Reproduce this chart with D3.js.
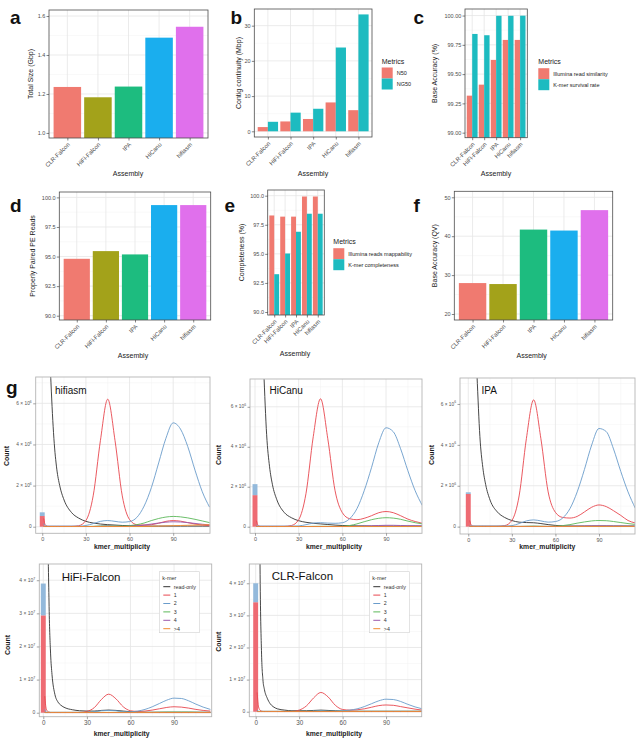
<!DOCTYPE html>
<html><head><meta charset="utf-8">
<script src="https://cdn.jsdelivr.net/npm/d3@7"></script>
<style>body{margin:0;background:#fff} svg{display:block} text{font-family:"Liberation Sans",Arial,sans-serif}</style>
</head><body><svg id="c" width="642" height="739"></svg>
<script>
// ---------- data: panels a-f ----------
const assemblies = ["CLR-Falcon","HiFi-Falcon","IPA","HiCanu","hifiasm"];
const assemblyColors = ["#F07A70","#A3A21A","#1DBC7F","#1AAEEE","#E070EC"];
const metricColors = ["#F07A70","#1DBBC0"];
const totalSize = [1.236,1.183,1.238,1.489,1.545];
const n50 = [1.2,2.8,3.5,8.2,6.0];
const ng50 = [2.7,5.3,6.4,23.8,33.2];
const readSimilarity = [99.316,99.41,99.621,99.792,99.792];
const kmerSurvival = [99.843,99.832,99.998,99.998,99.999];
const pairedReads = [94.81,95.46,95.18,99.35,99.35];
const readMappability = [98.3,98.2,98.2,99.93,99.93];
const kmerCompleteness = [93.25,95.03,96.9,98.45,98.45];
const qv = [27.95,27.7,41.7,41.45,46.7];

// ---------- data: panel g (k-mer spectra) ----------
const kmerMult = [1,2,3,4,5,6,8,10,12,15,20,25,30,35,40,45,50,55,60,65,70,75,80,85,90,95,100,105,110,115];
const spectraSeries = ["read-only","1","2","3","4",">4"];
const spectraColors = ["#333333","#E8474F","#6A9CCB","#5CB85A","#9B58AA","#F28C2E"];
const barFills = ["#EE6B73","#93B9DB"];

// hifiasm (x 1e6)
const hifiasmRO  = [60,30,18,12,8.8,7.0,4.3,2.8,2.0,1.3, 0.7,0.42,0.26,0.18,0.13,0.1,0.08,0.06,0.05,0.04, 0.03,0.03,0.03,0.03,0.03,0.03,0.03,0.03,0.03,0.03];
const hifiasmCn1 = [0.4,0.1,0.04,0.02,0.02,0.02,0.02,0.02,0.02,0.02, 0.02,0.05,0.3,1.5,4.2,6.2,4.2,1.5,0.35,0.1, 0.08,0.1,0.17,0.26,0.3,0.27,0.2,0.13,0.08,0.05];
const hifiasmCn2 = [0.15,0.05,0.03,0.03,0.03,0.03,0.03,0.03,0.03,0.03, 0.03,0.03,0.06,0.15,0.26,0.3,0.26,0.22,0.25,0.45, 1.0,1.9,3.1,4.3,5.05,4.75,3.9,2.75,1.7,0.95];
const hifiasmCn3 = [0.02,0.01,0.01,0.01,0.01,0.01,0.01,0.01,0.01,0.01, 0.01,0.01,0.01,0.02,0.04,0.05,0.04,0.03,0.05,0.1, 0.18,0.3,0.4,0.47,0.5,0.48,0.43,0.36,0.28,0.2];
const hifiasmCn4 = [0.01,0.01,0.01,0.01,0.01,0.01,0.01,0.01,0.01,0.01, 0.01,0.01,0.01,0.01,0.02,0.03,0.02,0.01,0.02,0.04, 0.08,0.13,0.18,0.22,0.24,0.23,0.2,0.16,0.12,0.09];
const hifiasmCn5 = [0.01,0.01,0.01,0.01,0.01,0.01,0.01,0.01,0.01,0.01, 0.01,0.01,0.01,0.01,0.01,0.01,0.01,0.01,0.01,0.01, 0.01,0.02,0.03,0.04,0.05,0.06,0.07,0.08,0.09,0.1];
const hifiasmBars = [0.52,0.18];

// HiCanu (x 1e6)
const hicanuRO  = [60,30,18,12.5,9.5,7.8,4.6,3.0,2.1,1.35, 0.72,0.45,0.3,0.22,0.17,0.14,0.11,0.08,0.06,0.05, 0.04,0.04,0.03,0.03,0.03,0.03,0.03,0.03,0.03,0.03];
const hicanuCn1 = [0.3,0.08,0.03,0.02,0.02,0.02,0.02,0.02,0.02,0.02, 0.02,0.06,0.35,1.65,4.5,6.4,4.4,1.8,0.7,0.4, 0.35,0.42,0.55,0.7,0.76,0.7,0.55,0.38,0.26,0.17];
const hicanuCn2 = [0.1,0.03,0.03,0.03,0.03,0.03,0.03,0.03,0.03,0.03, 0.03,0.03,0.04,0.1,0.18,0.2,0.18,0.17,0.2,0.4, 0.9,1.8,2.95,4.2,4.95,4.75,3.9,2.8,1.8,1.05];
const hicanuCn3 = [0.01,0.01,0.01,0.01,0.01,0.01,0.01,0.01,0.01,0.01, 0.01,0.01,0.01,0.01,0.02,0.02,0.02,0.01,0.02,0.06, 0.14,0.25,0.35,0.42,0.45,0.43,0.37,0.28,0.2,0.14];
const hicanuCn4 = [0.01,0.01,0.01,0.01,0.01,0.01,0.01,0.01,0.01,0.01, 0.01,0.01,0.01,0.01,0.01,0.01,0.01,0.01,0.01,0.01, 0.02,0.03,0.05,0.06,0.07,0.07,0.06,0.05,0.05,0.04];
const hicanuCn5 = [0.01,0.01,0.01,0.01,0.01,0.01,0.01,0.01,0.01,0.01, 0.01,0.01,0.01,0.01,0.01,0.01,0.01,0.01,0.01,0.01, 0.01,0.01,0.01,0.01,0.01,0.01,0.01,0.01,0.01,0.01];
const hicanuBars = [1.58,0.55];

// IPA (x 1e6)
const ipaRO  = [60,30,18,12,9,7.4,4.4,2.9,2.05,1.3, 0.72,0.45,0.3,0.22,0.2,0.19,0.15,0.1,0.06,0.04, 0.03,0.03,0.03,0.03,0.03,0.03,0.03,0.03,0.03,0.03];
const ipaCn1 = [0.3,0.08,0.03,0.02,0.02,0.02,0.02,0.02,0.02,0.02, 0.02,0.05,0.3,1.5,4.3,6.2,4.3,1.7,0.7,0.45, 0.42,0.5,0.72,0.95,1.06,0.98,0.78,0.55,0.3,0.18];
const ipaCn2 = [0.05,0.03,0.03,0.03,0.03,0.03,0.03,0.03,0.03,0.03, 0.03,0.03,0.05,0.15,0.28,0.33,0.28,0.22,0.25,0.42, 0.88,1.7,2.8,4.0,4.8,4.65,3.8,2.7,1.7,0.9];
const ipaCn3 = [0.01,0.01,0.01,0.01,0.01,0.01,0.01,0.01,0.01,0.01, 0.01,0.01,0.01,0.01,0.02,0.03,0.02,0.01,0.02,0.05, 0.1,0.17,0.23,0.28,0.3,0.29,0.25,0.2,0.15,0.11];
const ipaCn4 = [0.01,0.01,0.01,0.01,0.01,0.01,0.01,0.01,0.01,0.01, 0.01,0.01,0.01,0.01,0.01,0.01,0.01,0.01,0.01,0.01, 0.02,0.02,0.03,0.04,0.04,0.04,0.03,0.03,0.02,0.02];
const ipaCn5 = [0.01,0.01,0.01,0.01,0.01,0.01,0.01,0.01,0.01,0.01, 0.01,0.01,0.01,0.01,0.01,0.01,0.01,0.01,0.01,0.01, 0.01,0.01,0.01,0.01,0.01,0.01,0.01,0.01,0.01,0.01];
const ipaBars = [1.6,0.08];

// HiFi-Falcon (x 1e7)
const hifiFalconRO  = [40,15,6.5,3.2,1.8,1.15,0.55,0.33,0.23,0.15, 0.09,0.06,0.05,0.05,0.07,0.08,0.07,0.05,0.03,0.02, 0.015,0.015,0.015,0.015,0.015,0.015,0.015,0.015,0.015,0.015];
const hifiFalconCn1 = [0.5,0.12,0.04,0.02,0.01,0.01,0.01,0.01,0.01,0.01, 0.01,0.01,0.04,0.15,0.4,0.56,0.42,0.18,0.06,0.04, 0.05,0.08,0.12,0.16,0.18,0.17,0.14,0.1,0.07,0.05];
const hifiFalconCn2 = [0.1,0.02,0.01,0.01,0.01,0.01,0.01,0.01,0.01,0.01, 0.01,0.01,0.01,0.03,0.06,0.07,0.06,0.03,0.03,0.05, 0.1,0.18,0.28,0.38,0.44,0.43,0.36,0.26,0.17,0.1];
const hifiFalconCn3 = [0.01,0.01,0.01,0.01,0.01,0.01,0.01,0.01,0.01,0.01, 0.01,0.01,0.01,0.01,0.01,0.01,0.01,0.01,0.01,0.01, 0.01,0.01,0.015,0.02,0.02,0.02,0.02,0.015,0.01,0.01];
const hifiFalconCn4 = [0.005,0.005,0.005,0.005,0.005,0.005,0.005,0.005,0.005,0.005, 0.005,0.005,0.005,0.005,0.005,0.005,0.005,0.005,0.005,0.005, 0.005,0.005,0.005,0.005,0.005,0.005,0.005,0.005,0.005,0.005];
const hifiFalconCn5 = [0.005,0.005,0.005,0.005,0.005,0.005,0.005,0.005,0.005,0.005, 0.005,0.005,0.005,0.005,0.005,0.005,0.005,0.005,0.005,0.005, 0.005,0.005,0.005,0.005,0.005,0.005,0.005,0.005,0.005,0.005];
const hifiFalconBars = [2.94,0.96];

// CLR-Falcon (x 1e7)
const clrFalconRO  = [45,14,4.6,1.9,1.0,0.7,0.42,0.25,0.16,0.09, 0.05,0.03,0.03,0.03,0.04,0.05,0.04,0.03,0.02,0.015, 0.015,0.015,0.015,0.015,0.015,0.015,0.015,0.015,0.015,0.015];
const clrFalconCn1 = [0.6,0.15,0.05,0.02,0.01,0.01,0.01,0.01,0.01,0.01, 0.01,0.01,0.05,0.18,0.43,0.6,0.46,0.2,0.07,0.05, 0.06,0.09,0.14,0.19,0.21,0.2,0.16,0.12,0.08,0.05];
const clrFalconCn2 = [0.05,0.01,0.01,0.01,0.01,0.01,0.01,0.01,0.01,0.01, 0.01,0.01,0.01,0.01,0.02,0.03,0.02,0.02,0.03,0.05, 0.09,0.16,0.25,0.34,0.39,0.38,0.32,0.23,0.15,0.09];
const clrFalconCn3 = [0.01,0.01,0.01,0.01,0.01,0.01,0.01,0.01,0.01,0.01, 0.01,0.01,0.01,0.01,0.01,0.01,0.01,0.01,0.01,0.01, 0.01,0.01,0.01,0.01,0.01,0.01,0.01,0.01,0.01,0.01];
const clrFalconCn4 = [0.005,0.005,0.005,0.005,0.005,0.005,0.005,0.005,0.005,0.005, 0.005,0.005,0.005,0.005,0.005,0.005,0.005,0.005,0.005,0.005, 0.005,0.005,0.005,0.005,0.005,0.005,0.005,0.005,0.005,0.005];
const clrFalconCn5 = [0.005,0.005,0.005,0.005,0.005,0.005,0.005,0.005,0.005,0.005, 0.005,0.005,0.005,0.005,0.005,0.005,0.005,0.005,0.005,0.005, 0.005,0.005,0.005,0.005,0.005,0.005,0.005,0.005,0.005,0.005];
const clrFalconBars = [3.41,0.59];

const topTicks = [0,2,4,6], topTickMant = ["0","2","4","6"], topExp = "6";
const botTicks = [0,1,2,3,4], botTickMant = ["0","1","2","3","4"], botExp = "7";
const multTicks = [0,30,60,90];

// ---------- drawing ----------
const svg = d3.select("#c");
function txt(parent,x,y,s,o={}) {
  const t = parent.append("text").attr("x",x).attr("y",y).text(s)
    .attr("font-size",o.size||6).attr("fill",o.fill||"#1a1a1a")
    .attr("text-anchor",o.anchor||"start");
  if (o.weight) t.attr("font-weight",o.weight);
  if (o.family) t.attr("font-family",o.family);
  if (o.dy) t.attr("dy",o.dy);
  if (o.rotate) t.attr("transform",`rotate(${o.rotate},${x},${y})`);
  return t;
}

function barPanel(o) {
  const g = svg.append("g");
  const x = d3.scalePoint().domain(assemblies).range([o.left,o.right]).padding(0.6);
  const step = x.step();
  const y = d3.scaleLinear().domain(o.domain).range([o.bottom,o.top]);
  const hl = (arr,col,w) => g.selectAll(null).data(arr).join("line")
    .attr("x1",o.left).attr("x2",o.right).attr("y1",d=>y(d)).attr("y2",d=>y(d))
    .attr("stroke",col).attr("stroke-width",w);
  hl(o.minor,"#F3F3F3",0.5);
  hl(o.ticks,"#E6E6E6",0.8);
  g.selectAll(null).data(assemblies).join("line")
    .attr("x1",d=>x(d)).attr("x2",d=>x(d)).attr("y1",o.top).attr("y2",o.bottom)
    .attr("stroke","#E6E6E6").attr("stroke-width",0.8);
  const base = o.base !== undefined ? y(o.base) : o.bottom;
  const ns = o.series.length;
  const bw = 0.9*step/ns;
  o.series.forEach((s,si) => {
    g.selectAll(null).data(s).join("rect")
      .attr("x",(d,i)=>x(assemblies[i]) - 0.45*step + si*bw)
      .attr("width",bw)
      .attr("y",d=>Math.min(y(d),base))
      .attr("height",d=>Math.abs(base-y(d)))
      .attr("fill",(d,i)=> ns===1 ? assemblyColors[i] : metricColors[si]);
  });
  g.append("rect").attr("x",o.left).attr("y",o.top).attr("width",o.right-o.left).attr("height",o.bottom-o.top)
    .attr("fill","none").attr("stroke","#4D4D4D").attr("stroke-width",0.8);
  const ya = g.append("g").attr("transform",`translate(${o.left},0)`)
    .call(d3.axisLeft(y).tickValues(o.ticks).tickFormat(o.fmt).tickSize(2.5).tickPadding(1.2));
  ya.select(".domain").remove();
  ya.selectAll("line").attr("stroke","#333").attr("stroke-width",0.6);
  ya.selectAll("text").attr("font-size",5.5).attr("fill","#4D4D4D");
  const xa = g.append("g").attr("transform",`translate(0,${o.bottom})`)
    .call(d3.axisBottom(x).tickSize(2.5).tickFormat(""));
  xa.select(".domain").remove();
  xa.selectAll("line").attr("stroke","#333").attr("stroke-width",0.6);
  assemblies.forEach(a => txt(g,x(a)+1.5,o.bottom+5.5,a,{size:6,fill:"#4D4D4D",anchor:"end",dy:"0.35em",rotate:-45}));
  txt(g,o.ylabX,(o.top+o.bottom)/2,o.ylab,{size:7,anchor:"middle",rotate:-90,fill:"#1a1a1a"});
  txt(g,o.xlabX,o.xlabY,"Assembly",{size:7,anchor:"middle"});
  if (o.legend) {
    const L = o.legend;
    txt(g,L.x,L.y+2.5,"Metrics",{size:7});
    L.labels.forEach((lab,i)=>{
      g.append("rect").attr("x",L.x).attr("y",L.y+6.5+i*11).attr("width",11).attr("height",11).attr("fill",metricColors[i]);
      txt(g,L.x+15,L.y+12+i*11,lab,{size:5.5,dy:"0.35em"});
    });
  }
}

barPanel({left:49,right:208,top:10,bottom:138,domain:[0.974,1.631],ticks:[1.0,1.2,1.4,1.6],fmt:d3.format(".1f"),minor:[1.1,1.3,1.5],series:[totalSize],ylab:"Total Size (Gbp)",ylabX:33,xlabX:128,xlabY:176});
barPanel({left:254.3,right:372,top:9,bottom:137,domain:[-1.62,34.74],ticks:[0,10,20,30],fmt:d3.format("d"),minor:[5,15,25],series:[n50,ng50],base:0,ylab:"Contig continuity (Mbp)",ylabX:240.5,xlabX:313,xlabY:175.5,legend:{x:381.7,y:61,labels:["N50","NG50"]}});
barPanel({left:465,right:527.3,top:9,bottom:137.7,domain:[98.957,100.056],ticks:[99,99.25,99.5,99.75,100],fmt:d3.format(".2f"),minor:[99.125,99.375,99.625,99.875],series:[readSimilarity,kmerSurvival],ylab:"Base Accuracy (%)",ylabX:437.5,xlabX:496,xlabY:176,legend:{x:538.3,y:61.7,labels:["Illumina read similarity","K-mer survival rate"]}});
barPanel({left:59.3,right:210.7,top:192,bottom:320,domain:[89.637,100.456],ticks:[90,92.5,95,97.5,100],fmt:d3.format(".1f"),minor:[91.25,93.75,96.25,98.75],series:[pairedReads],ylab:"Properly Paired PE Reads",ylabX:34.5,xlabX:133,xlabY:358});
barPanel({left:267.7,right:324.3,top:190,bottom:315,domain:[89.742,100.49],ticks:[90,92.5,95,97.5,100],fmt:d3.format(".1f"),minor:[91.25,93.75,96.25,98.75],series:[readMappability,kmerCompleteness],ylab:"Completeness (%)",ylabX:244,xlabX:295,xlabY:356,legend:{x:333.3,y:241.7,labels:["Illumina reads mappability","K-mer completeness"]}});
barPanel({left:454.3,right:612.7,top:191.3,bottom:320,domain:[18.46,51.54],ticks:[20,30,40,50],fmt:d3.format("d"),minor:[25,35,45],series:[qv],ylab:"Base Accuracy (QV)",ylabX:437.5,xlabX:531.7,xlabY:358});

let clipN = 0;
function spectraPanel(o) {
  const g = svg.append("g");
  const x = d3.scaleLinear().domain(o.xd).range([o.left,o.right]);
  const y = d3.scaleLinear().domain(o.yd).range([o.bottom,o.top]);
  const id = "clip" + (clipN++);
  svg.append("clipPath").attr("id",id).append("rect")
    .attr("x",o.left).attr("y",o.top).attr("width",o.right-o.left).attr("height",o.bottom-o.top);
  const gp = g.append("g").attr("clip-path",`url(#${id})`);
  const vl = (arr,col,w) => gp.selectAll(null).data(arr).join("line")
    .attr("x1",d=>x(d)).attr("x2",d=>x(d)).attr("y1",o.top).attr("y2",o.bottom).attr("stroke",col).attr("stroke-width",w);
  const hl = (arr,col,w) => gp.selectAll(null).data(arr).join("line")
    .attr("x1",o.left).attr("x2",o.right).attr("y1",d=>y(d)).attr("y2",d=>y(d)).attr("stroke",col).attr("stroke-width",w);
  vl([15,45,75,105],"#F2F2F2",0.5); hl(o.minorY,"#F2F2F2",0.5);
  vl(multTicks,"#E4E4E4",0.8); hl(o.yTicks,"#E4E4E4",0.8);
  let acc = 0;
  o.bars.forEach((v,i)=>{
    gp.append("rect").attr("x",x(-1.7)).attr("width",x(1.7)-x(-1.7))
      .attr("y",y(acc+v)).attr("height",y(acc)-y(acc+v)).attr("fill",barFills[i]);
    acc += v;
  });
  const line = d3.line().x((d,i)=>x(kmerMult[i])).y(d=>y(d)).curve(d3.curveMonotoneX);
  o.series.forEach((s,i)=>{
    gp.append("path").attr("d",line(s)).attr("fill","none").attr("stroke",spectraColors[i])
      .attr("stroke-width",1).attr("stroke-opacity",0.9);
  });
  g.append("rect").attr("x",o.left).attr("y",o.top).attr("width",o.right-o.left).attr("height",o.bottom-o.top)
    .attr("fill","none").attr("stroke","#B5B5B5").attr("stroke-width",0.9);
  const ya = g.append("g").attr("transform",`translate(${o.left},0)`)
    .call(d3.axisLeft(y).tickValues(o.yTicks).tickFormat("").tickSize(2.5));
  ya.select(".domain").remove();
  ya.selectAll("line").attr("stroke","#666").attr("stroke-width",0.6);
  o.yTicks.forEach((v,i)=>{
    const t = g.append("text").attr("x",o.left-4).attr("y",y(v)).attr("dy","0.35em")
      .attr("text-anchor","end").attr("font-size",o.ySize).attr("fill","#555").attr("font-family","DejaVu Sans");
    if (v === 0) { t.text("0"); }
    else {
      t.append("tspan").text(o.yMant[i] + " × 10");
      t.append("tspan").attr("dy",-o.ySize*0.45).attr("font-size",o.ySize*0.7).text(o.yExp);
    }
  });
  const xa = g.append("g").attr("transform",`translate(0,${o.bottom})`)
    .call(d3.axisBottom(x).tickValues(multTicks).tickFormat(d3.format("d")).tickSize(2.5).tickPadding(1.5));
  xa.select(".domain").remove();
  xa.selectAll("line").attr("stroke","#666").attr("stroke-width",0.6);
  xa.selectAll("text").attr("font-size",o.xSize).attr("fill","#555").attr("font-family","DejaVu Sans");
  txt(g,o.countX,o.countY,"Count",{size:7,weight:"bold",anchor:"middle",rotate:-90,dy:"0.35em",family:"DejaVu Sans"});
  txt(g,o.kmX,o.kmY,"kmer_multiplicity",{size:6.8,weight:"bold",anchor:"middle",family:"DejaVu Sans"});
  txt(g,o.titleX,o.titleY,o.title,{size:o.titleSize,family:"Lato",fill:"#111"});
  if (o.legend) {
    const L = o.legend;
    g.append("rect").attr("x",L.x).attr("y",L.y).attr("width",40).attr("height",61)
      .attr("fill","#fff").attr("stroke","#D0D0D0").attr("stroke-width",0.6);
    txt(g,L.x+3,L.y+8,"k-mer",{size:5.5,family:"DejaVu Sans",fill:"#333"});
    spectraSeries.forEach((s,i)=>{
      const yy = L.y+15+i*8.4;
      g.append("line").attr("x1",L.x+4).attr("x2",L.x+11).attr("y1",yy).attr("y2",yy)
        .attr("stroke",spectraColors[i]).attr("stroke-width",1);
      txt(g,L.x+14.5,yy,s,{size:5.3,dy:"0.35em",family:"DejaVu Sans",fill:"#333"});
    });
  }
}

const topCommon = {yTicks:topTicks,yMant:topTickMant,yExp:topExp,minorY:[1,3,5,7],ySize:4.8,xSize:5.5,titleSize:10};
spectraPanel(Object.assign({},topCommon,{left:35.7,right:210,top:377,bottom:533.3,xd:[-4.5,115.3],yd:[-0.32,7.28],
  series:[hifiasmRO,hifiasmCn1,hifiasmCn2,hifiasmCn3,hifiasmCn4,hifiasmCn5],bars:hifiasmBars,
  title:"hifiasm",titleX:55,titleY:394,countX:6.5,countY:456,kmX:122,kmY:549}));
spectraPanel(Object.assign({},topCommon,{left:250,right:422,top:379,bottom:533.3,xd:[-3.43,114.7],yd:[-0.33,7.39],
  series:[hicanuRO,hicanuCn1,hicanuCn2,hicanuCn3,hicanuCn4,hicanuCn5],bars:hicanuBars,
  title:"HiCanu",titleX:269.5,titleY:394,countX:218.5,countY:455,kmX:334,kmY:549}));
spectraPanel(Object.assign({},topCommon,{left:460,right:635,top:378,bottom:534,xd:[-5.7,114.8],yd:[-0.36,7.27],
  series:[ipaRO,ipaCn1,ipaCn2,ipaCn3,ipaCn4,ipaCn5],bars:ipaBars,
  title:"IPA",titleX:481.5,titleY:394,countX:431.7,countY:455,kmX:547.3,kmY:549}));
const botCommon = {yTicks:botTicks,yMant:botTickMant,yExp:botExp,minorY:[0.5,1.5,2.5,3.5],ySize:5,xSize:6.3,titleSize:11.5};
spectraPanel(Object.assign({},botCommon,{left:39.3,right:211.7,top:564,bottom:716.7,xd:[-2.75,115.9],yd:[-0.12,4.49],
  series:[hifiFalconRO,hifiFalconCn1,hifiFalconCn2,hifiFalconCn3,hifiFalconCn4,hifiFalconCn5],bars:hifiFalconBars,
  title:"HiFi-Falcon",titleX:61.7,titleY:580.5,countX:7.5,countY:645,kmX:121.7,kmY:736,legend:{x:159.3,y:571.7}}));
spectraPanel(Object.assign({},botCommon,{left:249.3,right:421.7,top:564,bottom:716.7,xd:[-4.4,114.6],yd:[-0.155,4.6],
  series:[clrFalconRO,clrFalconCn1,clrFalconCn2,clrFalconCn3,clrFalconCn4,clrFalconCn5],bars:clrFalconBars,
  title:"CLR-Falcon",titleX:271.7,titleY:580,countX:219,countY:641.7,kmX:334,kmY:736,legend:{x:369.3,y:571.7}}));

// panel letters
[["a",10,24],["b",230.5,24],["c",413.5,24],["d",10,212],["e",224.5,212],["f",413.5,212],["g",6,394]].forEach(([l,x,y]) =>
  txt(svg,x,y,l,{size:19,family:"Lato",weight:"bold",fill:"#111"}));
</script></body></html>
